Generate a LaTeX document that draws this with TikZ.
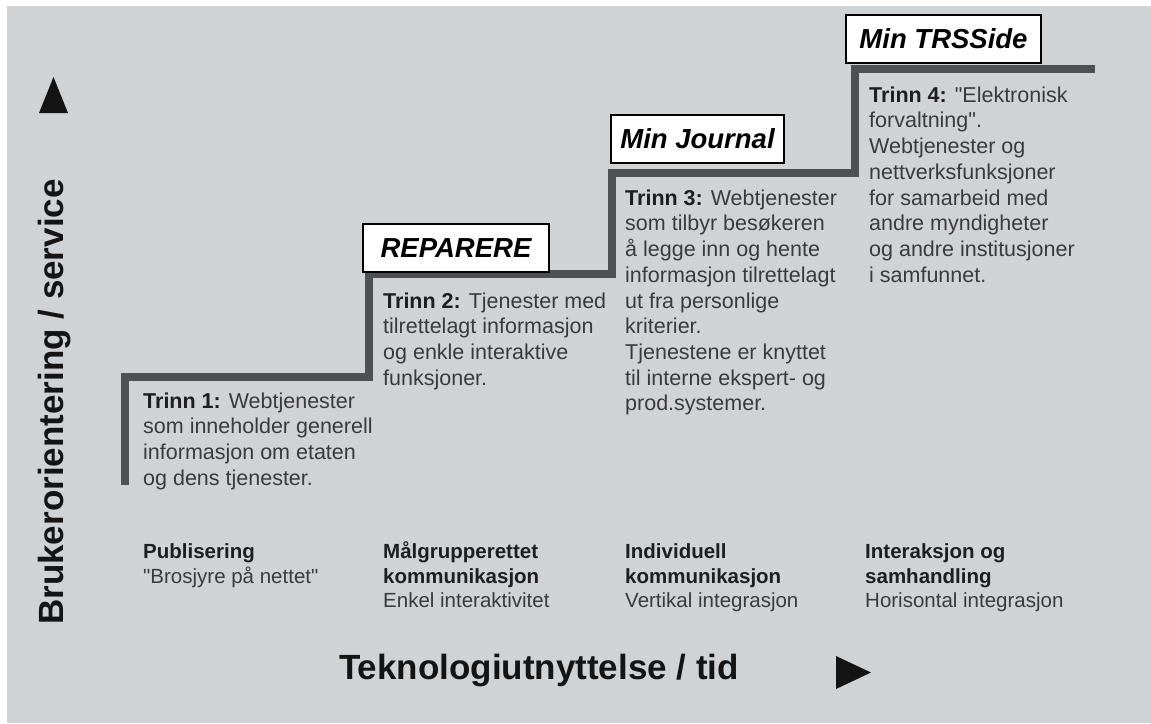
\documentclass[tikz,border=0pt]{standalone}
\usepackage{fontspec}
\setmainfont{Liberation Sans}
\usepackage{xcolor}
\usetikzlibrary{positioning}

\definecolor{bggray}{RGB}{208,211,214}
\definecolor{stairgray}{RGB}{78,80,83}
\definecolor{txtgray}{RGB}{58,58,60}
\definecolor{boldgray}{RGB}{30,30,32}

\newcommand{\trinnhead}[1]{\textbf{\color{boldgray}Trinn #1:}}
\newcommand{\phasehead}[1]{\textbf{\color{boldgray}\rule{0pt}{19pt}#1}}

\begin{document}
\begin{tikzpicture}[x=1pt, y=-1pt,
		stepbox/.style={draw=black, line width=1.4pt, fill=white, inner sep=0pt,
			minimum height=48pt, font=\fontsize{27.5}{30}\selectfont\bfseries\itshape},
		desc/.style={anchor=north west, inner sep=0pt, align=left, text=txtgray,
			font=\fontsize{21.5}{25.7}\selectfont},
		phase/.style={anchor=north west, inner sep=0pt, align=left, text=txtgray,
			font=\fontsize{20.5}{24.8}\selectfont},
		axislabel/.style={inner sep=0pt, text=black!92, font=\fontsize{35}{40}\selectfont\bfseries},
		stair/.style={draw=stairgray, line width=8pt, line join=miter, line cap=butt},
		tip/.style={fill=black!92},
		]
		
		%% ── BAKGRUNN ───────────────────────────────────────────
		\useasboundingbox (0,0) rectangle (1151,723);
		\fill[white] (0,0) rectangle (1151,723);
		\fill[bggray] (7,6) rectangle (1151,723);
		
		%% ── TRAPP ──────────────────────────────────────────────
		\coordinate (s0) at (125,485);
		\coordinate (s1) at (369,377);
		\coordinate (s2) at (612,274);
		\coordinate (s3) at (855,173);
		\coordinate (s4) at (1095,69);
		\draw[stair] (s0) |- (s1) |- (s2) |- (s3) |- (s4);
		
		% merkelapper over trinnene
		\node[stepbox, minimum width=186pt] (repbox)     at (456,248)   {REPARERE};
		\node[stepbox, minimum width=173pt] (journalbox) at (697.5,139) {Min Journal};
		\node[stepbox, minimum width=195pt] (trsbox)     at (943.5,39)  {Min TRSSide};
		
		%% ── TRINN-TEKSTER ──────────────────────────────────────
		\node[desc] (trinn1) at (143,392.5) {\trinnhead{1} Webtjenester\\som inneholder generell\\informasjon om etaten\\og dens tjenester.};
		\node[desc] (trinn2) at (383,292.5) {\trinnhead{2} Tjenester med\\tilrettelagt informasjon\\og enkle interaktive\\funksjoner.};
		\node[desc] (trinn3) at (625,189.5) {\trinnhead{3} Webtjenester\\som tilbyr besøkeren\\å legge inn og hente\\informasjon tilrettelagt\\ut fra personlige\\kriterier.\\Tjenestene er knyttet\\til interne ekspert- og\\prod.systemer.};
		\node[desc] (trinn4) at (869,86.5)  {\trinnhead{4} \textquotedbl Elektronisk\\forvaltning\textquotedbl.\\Webtjenester og\\nettverksfunksjoner\\for samarbeid med\\andre myndigheter\\og andre institusjoner\\i samfunnet.};
		
		%% ── FASER ──────────────────────────────────────────────
		\node[phase] (pub)   at (143,539) {\phasehead{Publisering}\\\textquotedbl Brosjyre på nettet\textquotedbl};
		\node[phase] (malgr) at (383,539) {\phasehead{Målgrupperettet}\\\phasehead{kommunikasjon}\\Enkel interaktivitet};
		\node[phase] (indiv) at (625,539) {\phasehead{Individuell}\\\phasehead{kommunikasjon}\\Vertikal integrasjon};
		\node[phase] (inter) at (865,539) {\phasehead{Interaksjon og}\\\phasehead{samhandling}\\Horisontal integrasjon};
		
		%% ── AKSER ──────────────────────────────────────────────
		\node[axislabel, rotate=90] (yaxis) at (55,402) {Brukerorientering / service};
		\node[axislabel] (xaxis) at (539,671) {Teknologiutnyttelse / tid};
		\fill[tip] (39,113) -- (68,113) -- (53.5,77) -- cycle;
		\fill[tip] (836,656) -- (836,689) -- (871,672.5) -- cycle;
		
	\end{tikzpicture}
\end{document}
